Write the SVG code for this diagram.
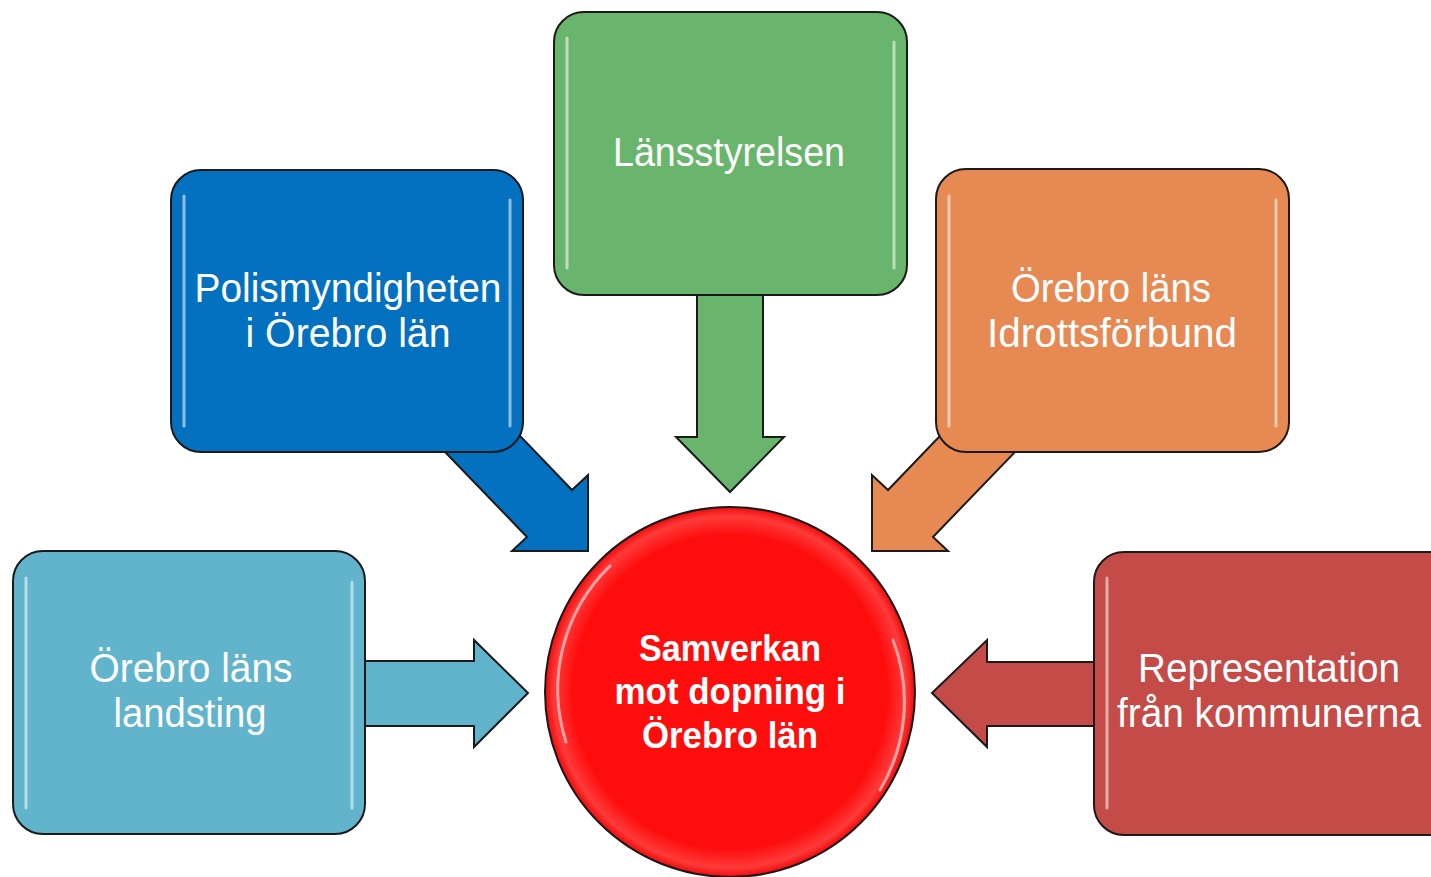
<svg xmlns="http://www.w3.org/2000/svg" width="1431" height="877" viewBox="0 0 1431 877">
  <defs>
    <style>
      .box { stroke: #1a1a1a; stroke-width: 2; }
      .arr { stroke: #1a1a1a; stroke-width: 2; stroke-linejoin: miter; }
      .hl { stroke: #ffffff; stroke-width: 3; stroke-linecap: round; opacity: 0.55; fill: none; }
      .lbl { font-family: "Liberation Sans", Arial, sans-serif; font-size: 40px; fill: #ffffff; text-anchor: middle; }
      .ctr { font-family: "Liberation Sans", Arial, sans-serif; font-weight: bold; font-size: 37px; fill: #ffffff; text-anchor: middle; }
    </style>
    <radialGradient id="circGrad" cx="0.5" cy="0.5" r="0.5">
      <stop offset="0.85" stop-color="#fe0d0d"/>
      <stop offset="0.95" stop-color="#ff3a3a"/>
      <stop offset="1" stop-color="#f00a0a"/>
    </radialGradient>
  </defs>
  <rect width="1431" height="877" fill="#ffffff"/>

  <g id="connectors">
    <polygon class="arr" fill="#6ab56e" points="697,290 697,437 676,437 730,492 784,437 763,437 763,290"/>
    <polygon class="arr" fill="#0370c0" points="420,426 527,537 512,551 588,551 588,475 572,490 500,415"/>
    <polygon class="arr" fill="#e78952" points="1040,426 933,537 948,551 872,551 872,475 888,490 960,415"/>
    <polygon class="arr" fill="#61b4cc" points="360,661 474,661 474,640 528,693 474,747 474,726 360,726"/>
    <polygon class="arr" fill="#c44b48" points="1100,662 987,662 987,640 932,693 987,747 987,726 1100,726"/>
  </g>

  <g id="node-lansstyrelsen">
    <rect class="box" x="554" y="12" width="353" height="283" rx="30" fill="#6ab56e"/>
    <line class="hl" x1="567" y1="38" x2="567" y2="268"/>
    <line class="hl" x1="894" y1="42" x2="894" y2="268"/>
    <text class="lbl" x="729" y="166" textLength="232" lengthAdjust="spacingAndGlyphs">Länsstyrelsen</text>
  </g>

  <g id="node-polis">
    <rect class="box" x="171" y="170" width="352" height="282" rx="30" fill="#0370c0"/>
    <line class="hl" x1="184" y1="196" x2="184" y2="426"/>
    <line class="hl" x1="510" y1="200" x2="510" y2="426"/>
    <text class="lbl" x="348" y="302" textLength="307" lengthAdjust="spacingAndGlyphs">Polismyndigheten</text>
    <text class="lbl" x="348" y="347" textLength="205" lengthAdjust="spacingAndGlyphs">i Örebro län</text>
  </g>

  <g id="node-idrott">
    <rect class="box" x="936" y="169" width="353" height="283" rx="30" fill="#e78952"/>
    <line class="hl" x1="949" y1="196" x2="949" y2="426"/>
    <line class="hl" x1="1276" y1="200" x2="1276" y2="426"/>
    <text class="lbl" x="1111" y="302" textLength="200" lengthAdjust="spacingAndGlyphs">Örebro läns</text>
    <text class="lbl" x="1112" y="347" textLength="250" lengthAdjust="spacingAndGlyphs">Idrottsförbund</text>
  </g>

  <g id="node-landsting">
    <rect class="box" x="13" y="551" width="352" height="283" rx="30" fill="#61b4cc"/>
    <line class="hl" x1="26" y1="578" x2="26" y2="808"/>
    <line class="hl" x1="352" y1="582" x2="352" y2="808"/>
    <text class="lbl" x="191" y="682" textLength="203" lengthAdjust="spacingAndGlyphs">Örebro läns</text>
    <text class="lbl" x="190" y="727" textLength="153" lengthAdjust="spacingAndGlyphs">landsting</text>
  </g>

  <g id="node-kommuner">
    <rect class="box" x="1094" y="552" width="370" height="283" rx="30" fill="#c44b48"/>
    <line class="hl" x1="1107" y1="578" x2="1107" y2="808"/>
    <text class="lbl" x="1269" y="682" textLength="262" lengthAdjust="spacingAndGlyphs">Representation</text>
    <text class="lbl" x="1269" y="727" textLength="304" lengthAdjust="spacingAndGlyphs">från kommunerna</text>
  </g>

  <g id="node-center">
    <circle cx="730" cy="692" r="185" fill="url(#circGrad)" stroke="#1a1a1a" stroke-width="2"/>
    <path class="hl" d="M 566,742 A 172,172 0 0 1 610,566" opacity="0.5"/>
    <path class="hl" d="M 893,640 A 172,172 0 0 1 880,790" opacity="0.4"/>
    <text class="ctr" x="730" y="661" textLength="182" lengthAdjust="spacingAndGlyphs">Samverkan</text>
    <text class="ctr" x="730" y="704" textLength="231" lengthAdjust="spacingAndGlyphs">mot dopning i</text>
    <text class="ctr" x="730" y="748" textLength="176" lengthAdjust="spacingAndGlyphs">Örebro län</text>
  </g>
</svg>
